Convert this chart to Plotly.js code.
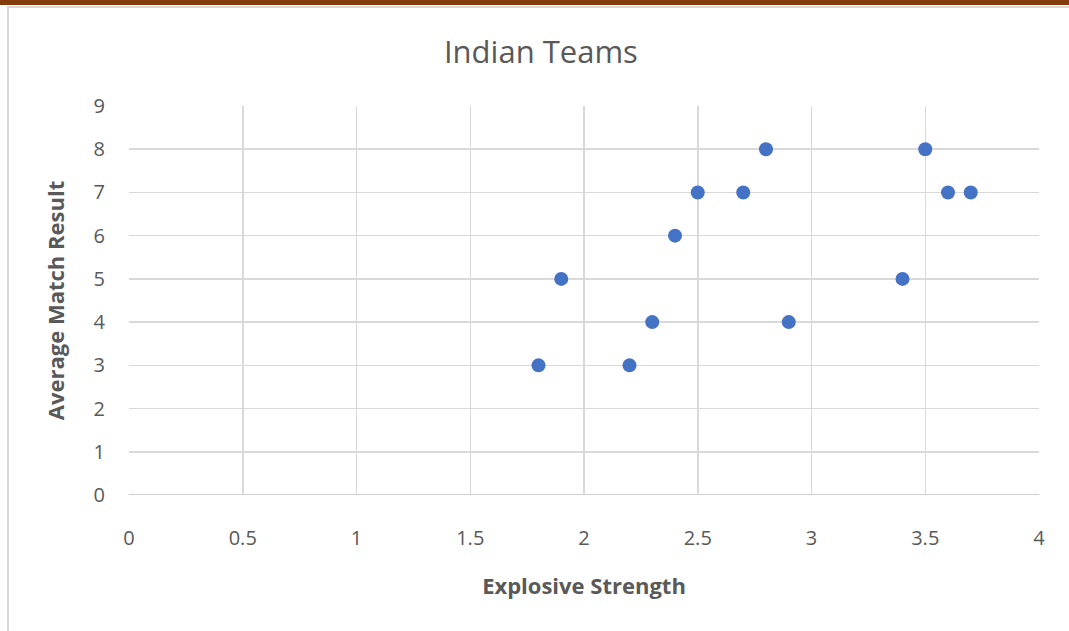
<!DOCTYPE html>
<html>
<head>
<meta charset="utf-8">
<script src="https://cdn.plot.ly/plotly-3.0.1.min.js"></script>
<style>
html,body{margin:0;padding:0;background:#fff;overflow:hidden;}
#wrap{position:relative;width:1069px;height:631px;}
#topbar{position:absolute;left:0;top:0;width:1069px;height:5px;background:#843C0C;}
#topline{position:absolute;left:7px;top:6px;width:1062px;height:2px;background:#D9D9D9;}
#leftline{position:absolute;left:7px;top:6px;width:2px;height:625px;background:#D9D9D9;}
#chart{position:absolute;left:0;top:0;width:1069px;height:631px;}
</style>
</head>
<body>
<div id="wrap">
<div id="chart"></div>
<div id="topbar"></div>
<div id="topline"></div>
<div id="leftline"></div>
</div>
<script>
const explosiveStrength = [1.8, 1.9, 2.2, 2.3, 2.4, 2.5, 2.7, 2.8, 2.9, 3.4, 3.5, 3.6, 3.7];
const averageMatchResult = [3, 5, 3, 4, 6, 7, 7, 8, 4, 5, 8, 7, 7];
const xTicks = [0, 0.5, 1, 1.5, 2, 2.5, 3, 3.5, 4];
const yTicks = [0, 1, 2, 3, 4, 5, 6, 7, 8, 9];

const font = "'Open Sans', 'Liberation Sans', sans-serif";
const trace = {
  x: explosiveStrength,
  y: averageMatchResult,
  type: 'scatter',
  mode: 'markers',
  marker: {color: '#4472C4', size: 14},
  hoverinfo: 'x+y'
};
const layout = {
  width: 1069, height: 631,
  margin: {l: 129, r: 30, t: 106, b: 136},
  paper_bgcolor: '#fff', plot_bgcolor: '#fff',
  showlegend: false,
  title: {text: 'Indian Teams', font: {family: font, size: 31, color: '#595959'}, x: 0.506, xref: 'container', y: 0.918, yanchor: 'middle'},
  xaxis: {
    range: [0, 4], tickvals: xTicks, ticktext: xTicks.map(String),
    showgrid: true, gridcolor: '#D9D9D9', gridwidth: 1.5,
    zeroline: false, showline: false, ticks: '',
    ticklabelstandoff: 29,
    tickfont: {family: font, size: 20, color: '#595959'},
    title: {text: 'Explosive Strength', font: {family: font, size: 22, color: '#595959', weight: 'bold'}, standoff: 28}
  },
  yaxis: {
    range: [0, 9], tickvals: yTicks, ticktext: yTicks.map(String),
    showgrid: true, gridcolor: '#D9D9D9', gridwidth: 1.5,
    zeroline: false, showline: false, ticks: '',
    ticklabelstandoff: 23,
    tickfont: {family: font, size: 20, color: '#595959'},
    title: {text: 'Average Match Result', font: {family: font, size: 22, color: '#595959', weight: 'bold'}, standoff: 22}
  },
  shapes: [
    {type: 'line', xref: 'paper', yref: 'y', x0: 0, x1: 1, y0: 0, y1: 0, line: {color: '#BFBFBF', width: 1.5}, layer: 'below'}
  ]
};
Plotly.newPlot('chart', [trace], layout, {displayModeBar: false, staticPlot: true});
</script>
</body>
</html>
